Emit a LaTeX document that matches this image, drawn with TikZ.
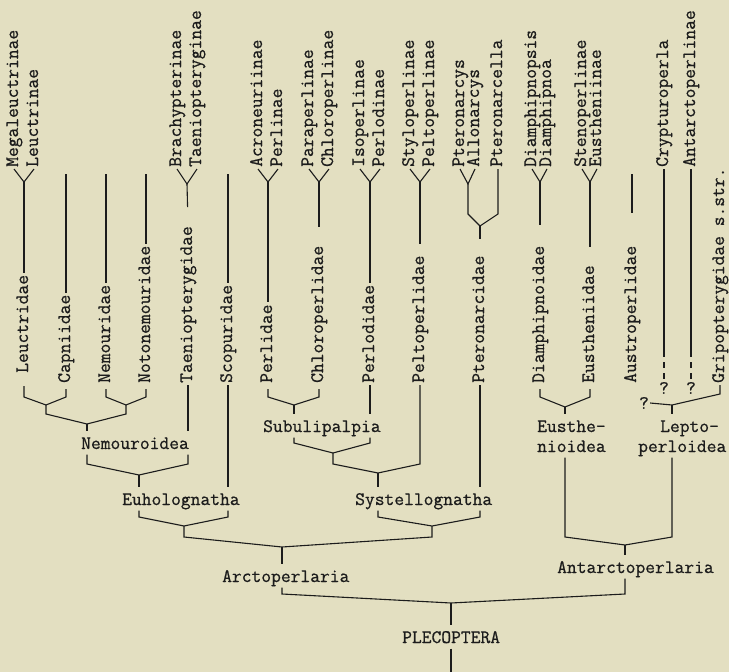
\documentclass[tikz,border=0pt]{standalone}
\usepackage{fontspec}
\setmonofont{Latin Modern Mono}[FakeBold=0.7]
\usepackage{tikz}
\usetikzlibrary{calc}
\definecolor{paper}{HTML}{E3DFC1}
\definecolor{ink}{HTML}{1C1C1C}

\begin{document}
\begin{tikzpicture}[
    x=1pt, y=-1pt,
    font=\fontsize{19}{20}\selectfont\ttfamily,
    taxon/.style={rotate=90, anchor=west, inner xsep=2pt, inner ysep=0pt, text height=8pt, text depth=0pt, text=ink},
    clade/.style={anchor=base west, inner xsep=0pt, inner ysep=5.5pt, text height=12pt, text depth=0pt, text=ink},
    qmark/.style={inner sep=1pt, text=ink},
    branch/.style={draw=ink, line width=1.1pt},
    query/.style={branch, dash pattern=on 6pt off 5pt}
  ]
  \useasboundingbox[fill=paper] (0,0) rectangle (729,672);

  % rows used by the brackets
  \coordinate (topend) at (0,174);
  \coordinate (rowK) at (0,214);
  \coordinate (dashtop) at (0,351);
  \coordinate (rowJ) at (0,394);
  \coordinate (rowA) at (0,397);
  \coordinate (rowB) at (0,414);
  \coordinate (rowG) at (0,443);
  \coordinate (rowC) at (0,464);
  \coordinate (rowD) at (0,517);
  \coordinate (rowE) at (0,537);
  \coordinate (rowF) at (0,594);
  \coordinate (bottom) at (0,672);

  % subfamilies and genera
  \node[taxon] (megaleuctrinae) at (14,169) {Megaleuctrinae};
  \node[taxon] (leuctrinae) at (34,169) {Leuctrinae};
  \node[taxon] (brachypterinae) at (177,169) {Brachypterinae};
  \node[taxon] (taeniopteryginae) at (197,169) {Taeniopteryginae};
  \node[taxon] (acroneuriinae) at (258,169) {Acroneuriinae};
  \node[taxon] (perlinae) at (278,169) {Perlinae};
  \node[taxon] (paraperlinae) at (309,169) {Paraperlinae};
  \node[taxon] (chloroperlinae) at (329,169) {Chloroperlinae};
  \node[taxon] (isoperlinae) at (360,169) {Isoperlinae};
  \node[taxon] (perlodinae) at (380,169) {Perlodinae};
  \node[taxon] (styloperlinae) at (410,169) {Styloperlinae};
  \node[taxon] (peltoperlinae) at (430,169) {Peltoperlinae};
  \node[taxon] (pteronarcys) at (460,169) {Pteronarcys};
  \node[taxon] (allonarcys) at (475,169) {Allonarcys};
  \node[taxon] (pteronarcella) at (498,169) {Pteronarcella};
  \node[taxon] (diamphipnopsis) at (532,169) {Diamphipnopsis};
  \node[taxon] (diamphipnoa) at (547,169) {Diamphipnoa};
  \node[taxon] (stenoperlinae) at (582,169) {Stenoperlinae};
  \node[taxon] (eustheniinae) at (597,169) {Eustheniinae};
  \node[taxon] (crypturoperla) at (664,169) {Crypturoperla};
  \node[taxon] (antarctoperlinae) at (691,169) {Antarctoperlinae};

  % families
  \node[taxon] (leuctridae) at (24,375) {Leuctridae};
  \node[taxon] (capniidae) at (66,385) {Capniidae};
  \node[taxon] (nemouridae) at (106,385) {Nemouridae};
  \node[taxon] (notonemouridae) at (146,385) {Notonemouridae};
  \node[taxon] (taeniopterygidae) at (188,385) {Taeniopterygidae};
  \node[taxon] (scopuridae) at (228,385) {Scopuridae};
  \node[taxon] (perlidae) at (268,385) {Perlidae};
  \node[taxon] (chloroperlidae) at (319,385) {Chloroperlidae};
  \node[taxon] (perlodidae) at (370,385) {Perlodidae};
  \node[taxon] (peltoperlidae) at (420,385) {Peltoperlidae};
  \node[taxon] (pteronarcidae) at (480,385) {Pteronarcidae};
  \node[taxon] (diamphipnoidae) at (540,385) {Diamphipnoidae};
  \node[taxon] (eustheniidae) at (590,385) {Eustheniidae};
  \node[taxon] (austroperlidae) at (632,385) {Austroperlidae};
  \node[taxon] (gripopterygidae) at (720,385) {Gripopterygidae s.str.};

  % higher groups
  \node[clade] (nemouroidea) at (81,449) {Nemouroidea};
  \node[clade] (euholognatha) at (122,505) {Euholognatha};
  \node[clade] (subulipalpia) at (263,432) {Subulipalpia};
  \node[clade] (systellognatha) at (355,505) {Systellognatha};
  \node[clade] (arctoperlaria) at (222,582) {Arctoperlaria};
  \node[clade] (eusthe) at (537,432) {Eusthe-};
  \node[clade] (nioidea) at (537,452) {nioidea};
  \node[clade] (lepto) at (660,432) {Lepto-};
  \node[clade] (perloidea) at (638,452) {perloidea};
  \node[clade] (antarctoperlaria) at (557,573) {Antarctoperlaria};
  \node[clade] (plecoptera) at (402,643) {PLECOPTERA};
  \node[qmark] (qCryp) at (664,388) {?};
  \node[qmark] (qAnt) at (691,388) {?};
  \node[qmark] (qLep) at (644,403) {?};

  % forks and junctions
  \coordinate (fLeuc) at (24,182);
  \coordinate (fTaen) at (187,184);
  \coordinate (fPerl) at (268,182);
  \coordinate (fChlo) at (319,182);
  \coordinate (fPerlo) at (370,182);
  \coordinate (fPelt) at (420,182);
  \coordinate (fPtero) at (468,184);
  \coordinate (fDiam) at (540,182);
  \coordinate (fEust) at (590,182);
  \coordinate (nPt) at (480,226);
  \coordinate (nLC) at (46,405);
  \coordinate (nNN) at (126,405);
  \coordinate (nNem) at (87,424);
  \coordinate (nNT) at (139,475);
  \coordinate (nEuh) at (184,526);
  \coordinate (nPC) at (294,405);
  \coordinate (nSub) at (333,453);
  \coordinate (nSP) at (378,473);
  \coordinate (nSys) at (432,526);
  \coordinate (nArc) at (282,547);
  \coordinate (nDE) at (565,407);
  \coordinate (nLep) at (672,405);
  \coordinate (nAnt) at (625,545);
  \coordinate (nPle) at (451,603);

  % upper forks
  \draw[branch] (megaleuctrinae.west) -- (fLeuc) -- (leuctrinae.west);
  \draw[branch] (fLeuc) -- (leuctridae.east);
  \draw[branch] (capniidae.east) -- (capniidae.east |- topend);
  \draw[branch] (nemouridae.east) -- (nemouridae.east |- topend);
  \draw[branch] (notonemouridae.east) -- (notonemouridae.east |- topend);
  \draw[branch] (brachypterinae.west) -- (fTaen) -- (taeniopteryginae.west);
  \draw[branch, shorten >=17pt] (fTaen) -- (taeniopterygidae.east);
  \draw[branch] (scopuridae.east) -- (scopuridae.east |- topend);
  \draw[branch] (acroneuriinae.west) -- (fPerl) -- (perlinae.west);
  \draw[branch] (fPerl) -- (perlidae.east);
  \draw[branch] (paraperlinae.west) -- (fChlo) -- (chloroperlinae.west);
  \draw[branch, shorten >=17pt] (fChlo) -- (chloroperlidae.east);
  \draw[branch] (isoperlinae.west) -- (fPerlo) -- (perlodinae.west);
  \draw[branch] (fPerlo) -- (perlodidae.east);
  \draw[branch] (styloperlinae.west) -- (fPelt) -- (peltoperlinae.west);
  \draw[branch, shorten >=9pt] (fPelt) -- (peltoperlidae.east);
  \draw[branch] (pteronarcys.west) -- (fPtero) -- (allonarcys.west);
  \draw[branch] (fPtero) -- (fPtero |- rowK) -- (nPt) -- (pteronarcella.west |- rowK) -- (pteronarcella.west);
  \draw[branch, shorten >=14pt] (nPt) -- (pteronarcidae.east);
  \draw[branch] (diamphipnopsis.west) -- (fDiam) -- (diamphipnoa.west);
  \draw[branch, shorten >=19pt] (fDiam) -- (diamphipnoidae.east);
  \draw[branch] (stenoperlinae.west) -- (fEust) -- (eustheniinae.west);
  \draw[branch, shorten >=16pt] (fEust) -- (eustheniidae.east);
  \draw[branch, shorten <=31pt] (austroperlidae.east) -- (austroperlidae.east |- topend);
  \draw[branch] (crypturoperla.west) -- (crypturoperla.west |- dashtop);
  \draw[query] (crypturoperla.west |- dashtop) -- (qCryp.north);
  \draw[branch] (antarctoperlinae.west) -- (antarctoperlinae.west |- dashtop);
  \draw[query] (antarctoperlinae.west |- dashtop) -- (qAnt.north);

  % Euholognatha
  \draw[branch, shorten <=11pt, shorten >=4pt] (leuctridae.west) -- (leuctridae.west |- rowA) -- (nLC) -- (capniidae.west |- rowA) -- (capniidae.west);
  \draw[branch, shorten <=4pt, shorten >=4pt] (nemouridae.west) -- (nemouridae.west |- rowA) -- (nNN) -- (notonemouridae.west |- rowA) -- (notonemouridae.west);
  \draw[branch] (nLC) -- (nLC |- rowB) -- (nNem) -- (nNN |- rowB) -- (nNN);
  \draw[branch] (nNem) -- (nemouroidea.north -| nNem);
  \draw[branch] (taeniopterygidae.west) -- (taeniopterygidae.west |- nemouroidea.north);
  \draw[branch] (nemouroidea.south -| nNem) -- (nNem |- rowC) -- (nNT) -- (taeniopterygidae.west |- rowC) -- (taeniopterygidae.west |- nemouroidea.south);
  \draw[branch] (nNT) -- (nNT |- euholognatha.north);
  \draw[branch] (scopuridae.west) -- (scopuridae.west |- euholognatha.north);
  \draw[branch] (nNT |- euholognatha.south) -- (nNT |- rowD) -- (nEuh) -- (scopuridae.west |- rowD) -- (scopuridae.west |- euholognatha.south);

  % Systellognatha
  \draw[branch, shorten <=4pt, shorten >=4pt] (perlidae.west) -- (perlidae.west |- rowA) -- (nPC) -- (chloroperlidae.west |- rowA) -- (chloroperlidae.west);
  \draw[branch] (nPC) -- (nPC |- subulipalpia.north);
  \draw[branch] (perlodidae.west) -- (perlodidae.west |- subulipalpia.north);
  \draw[branch] (nPC |- subulipalpia.south) -- (nPC |- rowG) -- (nSub) -- (perlodidae.west |- rowG) -- (perlodidae.west |- subulipalpia.south);
  \draw[branch] (nSub) -- (nSub |- rowC) -- (nSP) -- (peltoperlidae.west |- rowC) -- (peltoperlidae.west);
  \draw[branch] (nSP) -- (nSP |- systellognatha.north);
  \draw[branch] (pteronarcidae.west) -- (pteronarcidae.west |- systellognatha.north);
  \draw[branch] (nSP |- systellognatha.south) -- (nSP |- rowD) -- (nSys) -- (pteronarcidae.west |- rowD) -- (pteronarcidae.west |- systellognatha.south);

  % Arctoperlaria
  \draw[branch] (nEuh) -- (nEuh |- rowE) -- (nArc) -- (nSys |- rowE) -- (nSys);
  \draw[branch] (nArc) -- (nArc |- arctoperlaria.north);

  % Antarctoperlaria
  \draw[branch, shorten <=4pt, shorten >=4pt] (diamphipnoidae.west) -- (diamphipnoidae.west |- rowA) -- (nDE) -- (eustheniidae.west |- rowA) -- (eustheniidae.west);
  \draw[branch] (nDE) -- (nDE |- eusthe.north);
  \draw[branch] (qLep.east) -- (nLep) -- (gripopterygidae.west |- rowJ) -- (gripopterygidae.west);
  \draw[branch] (nLep) -- (nLep |- lepto.north);
  \draw[branch] (nDE |- nioidea.south) -- (nDE |- rowE) -- (nAnt) -- (nLep |- rowE) -- (nLep |- perloidea.south);
  \draw[branch] (nAnt) -- (nAnt |- antarctoperlaria.north);

  % Plecoptera
  \draw[branch] (nArc |- arctoperlaria.south) -- (nArc |- rowF) -- (nPle) -- (nAnt |- rowF) -- (nAnt |- antarctoperlaria.south);
  \draw[branch] (nPle) -- (nPle |- plecoptera.north);
  \draw[branch] (nPle |- plecoptera.south) -- (nPle |- bottom);
\end{tikzpicture}
\end{document}
